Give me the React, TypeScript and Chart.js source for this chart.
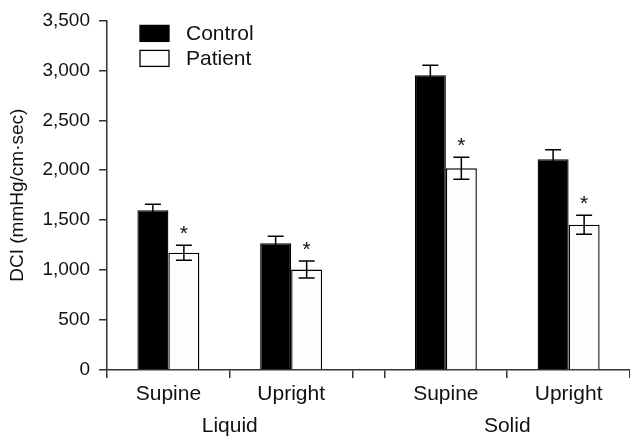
import { useEffect, useRef } from 'react';
import { Chart, registerables } from 'chart.js';

Chart.register(...registerables);

const FONT = '"Liberation Sans", Arial, Helvetica, sans-serif';

const seriesNames = ['Control', 'Patient'];
const seriesFill = ['#000000', '#fdfdfd'];
const categories = ['Supine', 'Upright', 'Supine', 'Upright'];
const categoryPositions = [0.5, 1.5, 2.76, 3.76];
const groupLabels = ['Liquid', 'Solid'];
const groupPositions = [1, 3.26];
const boundaryPositions = [0, 1, 2, 2.26, 3.26, 4.26];
const xMax = 4.26;

const controlMeans = [1600, 1270, 2950, 2110];
const controlErrors = [60, 70, 100, 95];
const patientMeans = [1175, 1005, 2020, 1455];
const patientErrors = [75, 85, 110, 95];
const patientSignificant = [true, true, true, true];

const yTicks = [0, 500, 1000, 1500, 2000, 2500, 3000, 3500];
const yTitle = 'DCI (mmHg/cm·sec)';

const AXIS_COLOR = '#333333';
const TEXT_COLOR = '#111111';

const f = (size: number) => ({ family: FONT, size, weight: 'normal' as const, lineHeight: 1.2 });

const errorPlugin = {
  id: 'errorBars',
  afterDatasetsDraw(chart: any) {
    const ctx = chart.ctx;
    const y = chart.scales.y;
    const means = [controlMeans, patientMeans];
    const errs = [controlErrors, patientErrors];
    ctx.save();
    ctx.strokeStyle = '#000';
    ctx.lineWidth = 1.5;
    for (let di = 0; di < 2; di++) {
      const meta = chart.getDatasetMeta(di);
      meta.data.forEach((bar: any, i: number) => {
        const cx = bar.x;
        const top = y.getPixelForValue(means[di][i] + errs[di][i]);
        const bot = y.getPixelForValue(means[di][i] - errs[di][i]);
        ctx.beginPath();
        ctx.moveTo(cx, top);
        ctx.lineTo(cx, bot);
        ctx.moveTo(cx - 8, top);
        ctx.lineTo(cx + 8, top);
        ctx.moveTo(cx - 8, bot);
        ctx.lineTo(cx + 8, bot);
        ctx.stroke();
        if (di === 1 && patientSignificant[i]) {
          ctx.fillStyle = TEXT_COLOR;
          ctx.font = `21px ${FONT}`;
          ctx.textAlign = 'center';
          ctx.textBaseline = 'alphabetic';
          ctx.fillText('*', cx, top - 5);
        }
      });
    }
    ctx.restore();
  },
};

const legendPlugin = {
  id: 'customLegend',
  afterDraw(chart: any) {
    const ctx = chart.ctx;
    const { left, top } = chart.chartArea;
    ctx.save();
    ctx.font = `21px ${FONT}`;
    ctx.textAlign = 'left';
    ctx.textBaseline = 'middle';
    seriesNames.forEach((name, i) => {
      const bx = left + 33;
      const by = top + 5 + i * 25;
      ctx.fillStyle = seriesFill[i];
      ctx.fillRect(bx, by, 29, 16);
      ctx.strokeStyle = '#000';
      ctx.lineWidth = 1.3;
      ctx.strokeRect(bx, by, 29, 16);
      ctx.fillStyle = TEXT_COLOR;
      ctx.fillText(name, bx + 46, by + 8.5);
    });
    ctx.restore();
  },
};

export default function App() {
  const ref = useRef<HTMLCanvasElement | null>(null);

  useEffect(() => {
    if (!ref.current) return;
    Chart.defaults.color = TEXT_COLOR;
    const chart = new Chart(ref.current, {
      type: 'bar',
      data: {
        datasets: [
          {
            label: seriesNames[0],
            xAxisID: 'x',
            yAxisID: 'y',
            data: categoryPositions.map((x, i) => ({ x, y: controlMeans[i] })),
            backgroundColor: seriesFill[0],
            borderColor: '#000',
            borderWidth: 1.3,
          },
          {
            label: seriesNames[1],
            xAxisID: 'x',
            yAxisID: 'y',
            data: categoryPositions.map((x, i) => ({ x, y: patientMeans[i] })),
            backgroundColor: seriesFill[1],
            borderColor: '#000',
            borderWidth: 1.4,
          },
        ],
      },
      options: {
        animation: false,
        responsive: false,
        maintainAspectRatio: false,
        events: [],
        layout: { padding: { top: 19.5, left: 0, right: 0, bottom: 0 } },
        datasets: { bar: { categoryPercentage: 0.505, barPercentage: 1.0 } },
        plugins: {
          legend: { display: false },
          tooltip: { enabled: false },
        },
        scales: {
          x: {
            type: 'linear',
            position: 'bottom',
            weight: 1,
            min: 0,
            max: xMax,
            offset: false,
            afterBuildTicks: (s: any) => {
              s.ticks = categoryPositions.map((v) => ({ value: v }));
            },
            afterFit: (s: any) => {
              s.height = 28;
            },
            ticks: {
              autoSkip: false,
              maxRotation: 0,
              padding: 4,
              font: f(21),
              color: TEXT_COLOR,
              callback: (_v: any, i: number) => categories[i],
            },
            grid: { display: false, offset: false, drawTicks: false },
            border: { display: false },
          },
          xb: {
            type: 'linear',
            position: 'bottom',
            weight: 0,
            min: 0,
            max: xMax,
            offset: false,
            afterBuildTicks: (s: any) => {
              s.ticks = boundaryPositions.map((v) => ({ value: v }));
            },
            afterFit: (s: any) => {
              s.height = 8;
            },
            ticks: { display: false, autoSkip: false },
            grid: {
              offset: false,
              drawOnChartArea: false,
              drawTicks: true,
              tickLength: 8,
              color: AXIS_COLOR,
              lineWidth: 1.5,
            },
            border: { display: true, color: AXIS_COLOR, width: 1.5 },
          },
          xg: {
            type: 'linear',
            position: 'bottom',
            weight: 2,
            min: 0,
            max: xMax,
            offset: false,
            afterBuildTicks: (s: any) => {
              s.ticks = groupPositions.map((v) => ({ value: v }));
            },
            afterFit: (s: any) => {
              s.height = 33;
            },
            ticks: {
              autoSkip: false,
              maxRotation: 0,
              padding: 8,
              font: f(21),
              color: TEXT_COLOR,
              callback: (_v: any, i: number) => groupLabels[i],
            },
            grid: { display: false, offset: false, drawTicks: false },
            border: { display: false },
          },
          y: {
            type: 'linear',
            min: 0,
            max: 3500,
            afterBuildTicks: (s: any) => {
              s.ticks = yTicks.map((v) => ({ value: v }));
            },
            afterFit: (s: any) => {
              s.width = 107;
            },
            ticks: {
              font: f(19),
              color: TEXT_COLOR,
              padding: 9,
              callback: (v: any) => Number(v).toLocaleString('en-US'),
            },
            grid: {
              drawOnChartArea: false,
              drawTicks: true,
              tickLength: 8,
              color: AXIS_COLOR,
              lineWidth: 1.5,
            },
            border: { display: true, color: AXIS_COLOR, width: 1.5 },
            title: {
              display: true,
              text: yTitle,
              font: f(19),
              color: TEXT_COLOR,
              padding: { top: 6, bottom: 0 },
            },
          },
        },
      },
      plugins: [errorPlugin, legendPlugin],
    } as any);
    return () => chart.destroy();
  }, []);

  return (
    <div style={{ position: 'fixed', left: 0, top: 0, width: 630, height: 439, background: '#fff' }}>
      <canvas ref={ref} width={630} height={439} style={{ display: 'block' }} />
    </div>
  );
}
